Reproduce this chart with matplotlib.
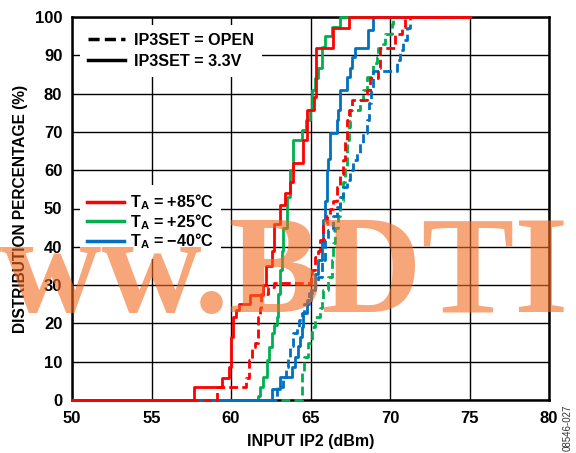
import matplotlib
matplotlib.use('Agg')
import matplotlib.pyplot as plt
from matplotlib.lines import Line2D

# ---------------- data ----------------
red_33_x = [57.7, 59.45, 59.9, 60.0, 60.15, 60.3, 60.5, 61.2, 62.0, 62.2, 62.6, 62.7, 63.1, 63.4, 63.7, 63.9,
            64.5, 64.8, 65.2, 65.35, 66.4, 67.4]
red_33_y = [3.3, 5.7, 8.7, 16.5, 21.7, 23.5, 25, 27.5, 30, 35, 39, 46, 51, 54, 57, 62,
            68, 75.7, 79, 91.8, 97, 100]

green_33_x = [61.7, 61.8, 62.0, 62.28, 62.41, 62.56, 62.7, 62.87, 62.94, 63.08, 63.2, 63.3, 63.5, 63.7, 63.92,
              64.45, 64.7, 64.97, 65.07, 65.3, 65.5, 65.7, 65.9, 66.33, 66.86]
green_33_y = [1, 3.5, 6, 10.4, 13.9, 17.4, 19.6, 21.7, 27.8, 34, 39, 45, 53, 60, 68,
              70.5, 73, 75.7, 81, 84, 86.6, 92.2, 95, 97.5, 100]

blue_33_x = [62.6, 63.08, 63.85, 64.03, 64.2, 64.34, 64.45, 64.55, 64.76, 65.0, 65.28, 65.49, 65.7, 65.81,
             65.91, 66.02, 66.12, 66.23, 66.65, 66.75, 66.86, 67.32, 67.48, 67.59, 67.8, 68.6, 68.95]
blue_33_y = [3, 6, 8.7, 11.3, 14, 16.5, 19, 22.6, 26, 28.7, 33, 36.5, 41, 47,
             52, 60, 63, 69.6, 73, 75.7, 81, 84.4, 86.6, 89.6, 91.8, 96.6, 100]

red_open_x = [59.1, 60.95, 61.15, 61.3, 61.5, 61.7, 61.82, 61.9, 62.3, 62.7, 65.0, 65.1, 65.28, 65.49, 65.6,
              65.81, 66.02, 66.23, 66.43, 66.65, 66.86, 67.07, 67.17, 67.3, 67.4, 67.59, 68.53, 68.74, 69.27,
              69.4, 70.3, 70.73, 70.94]
red_open_y = [3.5, 5.7, 10.4, 13.9, 15, 21.7, 24, 27.8, 29.5, 30.5, 33, 34, 37.4, 39, 41.8,
              46, 48, 50, 52, 55.7, 59, 62.7, 68, 73, 75.7, 78.3, 81, 84, 86.7,
              91.8, 95.6, 97.5, 100]

green_open_x = [64.45, 64.6, 64.86, 65.07, 65.28, 65.6, 65.7, 65.81, 66.12, 66.33, 66.43, 66.54, 66.75, 66.86,
                67.07, 67.17, 67.28, 67.45, 67.5, 68.1, 68.3, 68.53, 68.95, 69.16, 69.27, 69.58, 69.69, 70.1,
                70.21]
green_open_y = [7, 11.3, 14.8, 19, 21.7, 24, 26, 28.7, 32, 36.5, 41, 45, 48, 52,
                57, 61, 68, 71.4, 75.7, 78.3, 81, 84.4, 88, 89.6, 91.8, 93, 95.6, 98.3,
                100]

blue_open_x = [62.9, 63.3, 63.44, 63.6, 63.7, 63.92, 64.13, 64.3, 64.45, 64.6, 64.9, 65.28, 65.49, 65.7,
               65.91, 66.12, 66.43, 66.65, 66.86, 67.07, 67.28, 67.48, 67.7, 67.9, 68.11, 68.32, 68.53,
               68.65, 68.8, 68.95, 70.42, 70.63, 70.84, 71.05, 71.26]
blue_open_y = [3.3, 6, 8.7, 11.3, 14, 17.4, 19, 21, 22.6, 25, 28, 30.5, 32, 36.5,
               41.8, 44.4, 48, 50.5, 53, 55.7, 57.4, 60, 62.7, 64.4, 67, 69.6, 73,
               77.5, 81, 86, 88.8, 91.4, 94, 97, 100]

x_start, x_end = 50, 75
x_ticks = [50, 55, 60, 65, 70, 75, 80]
y_ticks = [0, 10, 20, 30, 40, 50, 60, 70, 80, 90, 100]

temp_labels = ['T$_\\mathbf{A}$ = +85°C', 'T$_\\mathbf{A}$ = +25°C', 'T$_\\mathbf{A}$ = \u221240°C']
set_labels = ['IP3SET = OPEN', 'IP3SET = 3.3V']

RED, GREEN, BLUE = '#FF0000', '#00B050', '#0070C0'

plt.rcParams['font.family'] = ['Liberation Sans', 'DejaVu Sans']
plt.rcParams['font.weight'] = 'bold'
plt.rcParams['mathtext.fontset'] = 'custom'
plt.rcParams['mathtext.rm'] = 'Liberation Sans:bold'
plt.rcParams['mathtext.bf'] = 'Liberation Sans:bold'
plt.rcParams['mathtext.it'] = 'Liberation Sans:bold'

fig = plt.figure(figsize=(5.76, 4.53), dpi=100)
ax = fig.add_axes([72 / 576, 1 - 400 / 453, 477 / 576, 383 / 453])
ax.set_xlim(50, 80)
ax.set_ylim(0, 100)
ax.set_xticks(x_ticks)
ax.set_yticks(y_ticks)
ax.grid(True, color='black', lw=1.0)
ax.set_axisbelow(True)
for s in ax.spines.values():
    s.set_linewidth(1.8)
    s.set_zorder(2.5)
ax.tick_params(length=0, labelsize=12)
ax.tick_params(axis='x', pad=8)
ax.tick_params(axis='y', pad=7)
for lab in ax.get_xticklabels() + ax.get_yticklabels():
    lab.set_fontweight('bold')

LW = 2.0
DASH = (3.2, 1.5)


def cdf(xs, ys):
    return [x_start] + list(xs) + [x_end], [0] + list(ys) + [100]


series = [
    (green_33_x, green_33_y, GREEN, False),
    (green_open_x, green_open_y, GREEN, True),
    (blue_33_x, blue_33_y, BLUE, False),
    (blue_open_x, blue_open_y, BLUE, True),
    (red_33_x, red_33_y, RED, False),
    (red_open_x, red_open_y, RED, True),
]
for i, (xs, ys, c, dashed) in enumerate(series):
    X, Y = cdf(xs, ys)
    ln, = ax.plot(X, Y, drawstyle='steps-post', color=c, lw=LW, clip_on=False, zorder=3 + i * 0.1)
    if dashed:
        ln.set_dashes(DASH)

ax.set_xlabel('INPUT IP2 (dBm)', fontsize=11.5, fontweight='bold', labelpad=6)
ax.set_ylabel('DISTRIBUTION PERCENTAGE (%)', fontsize=11.2, fontweight='bold', labelpad=5)

# legends
h1 = [Line2D([], [], color='black', lw=2.5, dashes=(3.2, 1.5)), Line2D([], [], color='black', lw=2.5)]
leg1 = ax.legend(h1, set_labels, loc='upper left', bbox_to_anchor=(8 / 477, 1 - 8 / 383), borderaxespad=0,
                 frameon=True, fancybox=False, facecolor='white', edgecolor='none', framealpha=1,
                 handlelength=2.3, handletextpad=0.56, labelspacing=0.37, borderpad=0.5,
                 prop={'weight': 'bold', 'size': 11.6})
leg1.set_zorder(5)
ax.add_artist(leg1)
h2 = [Line2D([], [], color=c, lw=2.5) for c in (RED, GREEN, BLUE)]
leg2 = ax.legend(h2, temp_labels, loc='upper left', bbox_to_anchor=(8 / 477, 1 - 168 / 383), borderaxespad=0,
                 frameon=True, fancybox=False, facecolor='white', edgecolor='none', framealpha=1,
                 handlelength=2.3, handletextpad=0.37, labelspacing=0.0, borderpad=0.45,
                 prop={'weight': 'bold', 'size': 11.6})
leg2.set_zorder(5)

# side code
fig.text(568 / 576, 1 - 428 / 453, '08546-027', rotation=90, ha='center', va='center',
         fontsize=7, fontweight='normal', color='#333333')

# watermark
fig.text(-98 / 576, 1 - 312 / 453, 'www.BDTI', ha='left', va='baseline', fontsize=100,
         family='Liberation Serif', fontweight='bold', color='#F26B21', alpha=0.6, zorder=10)

fig.savefig('out.png', dpi=100)
